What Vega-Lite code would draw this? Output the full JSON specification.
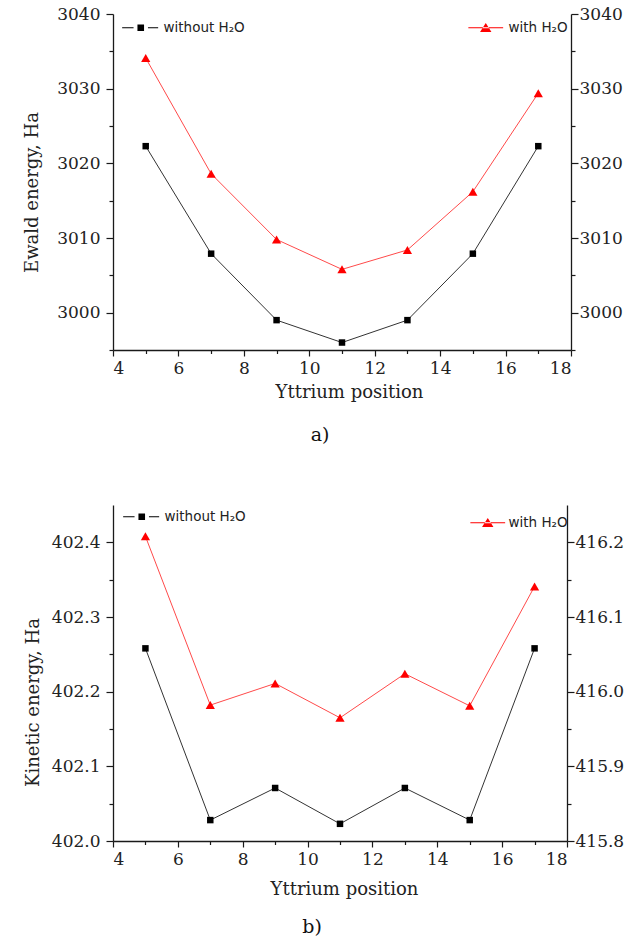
{
  "$schema": "https://vega.github.io/schema/vega-lite/v6.json",
  "background": "white",
  "padding": {"left": 23, "top": 5, "right": 5, "bottom": 5},
  "spacing": 60,
  "config": {
    "view": {"stroke": null},
    "axis": {"grid": false, "domainColor": "#1a1a1a", "domainWidth": 1.3, "tickColor": "#1a1a1a", "tickWidth": 1.2, "tickSize": 7, "labelFont": "DejaVu Serif", "labelFontSize": 17, "labelColor": "#222", "titleFont": "DejaVu Serif", "titleFontSize": 18, "titleFontWeight": "normal", "titleColor": "#222"},
    "legend": {"labelFont": "DejaVu Sans", "labelFontSize": 13.5, "labelColor": "#222", "padding": 0, "symbolStrokeWidth": 1, "orient": "none"}
  },
  "datasets": {
    "ewald": [
      {"pos": 5, "series": "without H₂O", "energy": 3022.3},
      {"pos": 7, "series": "without H₂O", "energy": 3007.9},
      {"pos": 9, "series": "without H₂O", "energy": 2999.0},
      {"pos": 11, "series": "without H₂O", "energy": 2996.0},
      {"pos": 13, "series": "without H₂O", "energy": 2999.0},
      {"pos": 15, "series": "without H₂O", "energy": 3007.9},
      {"pos": 17, "series": "without H₂O", "energy": 3022.3},
      {"pos": 5, "series": "with H₂O", "energy": 3034.1},
      {"pos": 7, "series": "with H₂O", "energy": 3018.6},
      {"pos": 9, "series": "with H₂O", "energy": 3009.8},
      {"pos": 11, "series": "with H₂O", "energy": 3005.8},
      {"pos": 13, "series": "with H₂O", "energy": 3008.4},
      {"pos": 15, "series": "with H₂O", "energy": 3016.2},
      {"pos": 17, "series": "with H₂O", "energy": 3029.4}
    ],
    "kinetic": [
      {"pos": 5, "series": "without H₂O", "energy": 402.258},
      {"pos": 7, "series": "without H₂O", "energy": 402.028},
      {"pos": 9, "series": "without H₂O", "energy": 402.071},
      {"pos": 11, "series": "without H₂O", "energy": 402.023},
      {"pos": 13, "series": "without H₂O", "energy": 402.071},
      {"pos": 15, "series": "without H₂O", "energy": 402.028},
      {"pos": 17, "series": "without H₂O", "energy": 402.258},
      {"pos": 5, "series": "with H₂O", "energy": 416.208},
      {"pos": 7, "series": "with H₂O", "energy": 415.982},
      {"pos": 9, "series": "with H₂O", "energy": 416.011},
      {"pos": 11, "series": "with H₂O", "energy": 415.965},
      {"pos": 13, "series": "with H₂O", "energy": 416.024},
      {"pos": 15, "series": "with H₂O", "energy": 415.981},
      {"pos": 17, "series": "with H₂O", "energy": 416.141}
    ]
  },
  "vconcat": [
    {
      "width": 458,
      "height": 336,
      "title": {"text": "a)", "orient": "bottom", "font": "DejaVu Serif", "fontSize": 19, "fontWeight": "normal", "color": "#111", "offset": 25, "dx": -22},
      "data": {"name": "ewald"},
      "layer": [
        {
          "transform": [{"filter": "datum.series === 'without H₂O'"}],
          "encoding": {
            "x": {"field": "pos", "type": "quantitative", "scale": {"domain": [4, 18], "nice": false, "zero": false},
              "axis": {"title": "Yttrium position", "values": [4,5,6,7,8,9,10,11,12,13,14,15,16,17,18], "labelExpr": "datum.value % 2 === 0 ? datum.label : ''", "tickSize": {"condition": {"test": "datum.value % 2 === 0", "value": 6}, "value": 3.5}, "labelPadding": 4, "titlePadding": 7, "titleX": 236}},
            "y": {"field": "energy", "type": "quantitative", "scale": {"domain": [2995, 3040], "nice": false, "zero": false},
              "axis": {"orient": "left", "title": "Ewald energy, Ha", "values": [2995,3000,3005,3010,3015,3020,3025,3030,3035,3040], "labelExpr": "datum.value % 10 === 0 ? format(datum.value, 'd') : ''", "tickSize": {"condition": {"test": "datum.value % 10 === 0", "value": 7}, "value": 4}, "labelPadding": 6, "titlePadding": 15, "titleY": 178}}
          },
          "layer": [
            {"mark": {"type": "line", "color": "#333333", "strokeWidth": 1}},
            {"mark": {"type": "point", "shape": "square", "filled": true, "size": 42, "opacity": 1},
              "encoding": {"color": {"field": "series", "type": "nominal", "scale": {"domain": ["without H₂O"], "range": ["#000000"]},
                "legend": {"title": null, "orient": "none", "legendX": 21, "legendY": 7, "symbolType": "M-3.1,-0.09H-1.2V0.09H-3.1ZM1.2,-0.09H2.9V0.09H1.2ZM-0.55,-0.55H0.55V0.55H-0.55Z", "symbolSize": 144, "labelOffset": 16,
                  "encode": {"symbols": {"update": {"shape": {"value": "M-3.1,-0.09H-1.2V0.09H-3.1ZM1.2,-0.09H2.9V0.09H1.2ZM-0.55,-0.55H0.55V0.55H-0.55Z"}, "size": {"value": 144}, "fill": {"value": "#000000"}, "stroke": {"value": "#000000"}, "strokeWidth": {"value": 0.3}, "opacity": {"value": 1}}}}}}}}
          ]
        },
        {
          "transform": [{"filter": "datum.series === 'with H₂O'"}],
          "encoding": {
            "x": {"field": "pos", "type": "quantitative", "scale": {"domain": [4, 18], "nice": false, "zero": false},
              "axis": {"title": "Yttrium position", "values": [4,5,6,7,8,9,10,11,12,13,14,15,16,17,18], "labelExpr": "datum.value % 2 === 0 ? datum.label : ''", "tickSize": {"condition": {"test": "datum.value % 2 === 0", "value": 6}, "value": 3.5}, "labelPadding": 4, "titlePadding": 7, "titleX": 236}},
            "y": {"field": "energy", "type": "quantitative", "scale": {"domain": [2995, 3040], "nice": false, "zero": false},
              "axis": {"orient": "right", "title": null, "values": [2995,3000,3005,3010,3015,3020,3025,3030,3035,3040], "labelExpr": "datum.value % 10 === 0 ? format(datum.value, 'd') : ''", "tickSize": {"condition": {"test": "datum.value % 10 === 0", "value": 7}, "value": 4}, "labelPadding": 1}}
          },
          "layer": [
            {"mark": {"type": "line", "color": "#ff4a4a", "strokeWidth": 1}},
            {"mark": {"type": "point", "shape": "triangle-up", "filled": true, "size": 85, "opacity": 1},
              "encoding": {"color": {"field": "series", "type": "nominal", "scale": {"domain": ["with H₂O"], "range": ["#ff0000"]},
                "legend": {"title": null, "orient": "none", "legendX": 366, "legendY": 7, "symbolType": "M-2.9,-0.09H2.9V0.09H-2.9ZM0,-0.8L-0.95,0.72L0.95,0.72Z", "symbolSize": 144, "labelOffset": 16,
                  "encode": {"symbols": {"update": {"shape": {"value": "M-2.9,-0.09H2.9V0.09H-2.9ZM0,-0.8L-0.95,0.72L0.95,0.72Z"}, "size": {"value": 144}, "fill": {"value": "#ff0000"}, "stroke": {"value": "#ff0000"}, "strokeWidth": {"value": 0.3}, "opacity": {"value": 1}}}}}}}}
          ]
        }
      ],
      "resolve": {"scale": {"y": "independent", "color": "independent"}}
    },
    {
      "width": 454,
      "height": 336,
      "title": {"text": "b)", "orient": "bottom", "font": "DejaVu Serif", "fontSize": 19, "fontWeight": "normal", "color": "#111", "offset": 20, "dx": -28},
      "data": {"name": "kinetic"},
      "layer": [
        {
          "transform": [{"filter": "datum.series === 'without H₂O'"}],
          "encoding": {
            "x": {"field": "pos", "type": "quantitative", "scale": {"domain": [4, 18], "nice": false, "zero": false},
              "axis": {"title": "Yttrium position", "values": [4,5,6,7,8,9,10,11,12,13,14,15,16,17,18], "labelExpr": "datum.value % 2 === 0 ? datum.label : ''", "tickSize": {"condition": {"test": "datum.value % 2 === 0", "value": 6}, "value": 3.5}, "labelPadding": 4, "titlePadding": 13, "titleX": 231}},
            "y": {"field": "energy", "type": "quantitative", "scale": {"domain": [402.0, 402.45], "nice": false, "zero": false},
              "axis": {"orient": "left", "title": "Kinetic  energy, Ha", "values": [402.0,402.05,402.1,402.15,402.2,402.25,402.3,402.35,402.4], "labelExpr": "abs(datum.value*10 - round(datum.value*10)) < 0.001 ? format(datum.value, '.1f') : ''", "tickSize": {"condition": {"test": "abs(datum.value*10 - round(datum.value*10)) < 0.001", "value": 7}, "value": 4}, "labelPadding": 6, "titlePadding": 9, "titleY": 197}}
          },
          "layer": [
            {"mark": {"type": "line", "color": "#333333", "strokeWidth": 1}},
            {"mark": {"type": "point", "shape": "square", "filled": true, "size": 42, "opacity": 1},
              "encoding": {"color": {"field": "series", "type": "nominal", "scale": {"domain": ["without H₂O"], "range": ["#000000"]},
                "legend": {"title": null, "orient": "none", "legendX": 22, "legendY": 5, "symbolType": "M-3.1,-0.09H-1.2V0.09H-3.1ZM1.2,-0.09H2.9V0.09H1.2ZM-0.55,-0.55H0.55V0.55H-0.55Z", "symbolSize": 144, "labelOffset": 16,
                  "encode": {"symbols": {"update": {"shape": {"value": "M-3.1,-0.09H-1.2V0.09H-3.1ZM1.2,-0.09H2.9V0.09H1.2ZM-0.55,-0.55H0.55V0.55H-0.55Z"}, "size": {"value": 144}, "fill": {"value": "#000000"}, "stroke": {"value": "#000000"}, "strokeWidth": {"value": 0.3}, "opacity": {"value": 1}}}}}}}}
          ]
        },
        {
          "transform": [{"filter": "datum.series === 'with H₂O'"}],
          "encoding": {
            "x": {"field": "pos", "type": "quantitative", "scale": {"domain": [4, 18], "nice": false, "zero": false},
              "axis": {"title": "Yttrium position", "values": [4,5,6,7,8,9,10,11,12,13,14,15,16,17,18], "labelExpr": "datum.value % 2 === 0 ? datum.label : ''", "tickSize": {"condition": {"test": "datum.value % 2 === 0", "value": 6}, "value": 3.5}, "labelPadding": 4, "titlePadding": 13, "titleX": 231}},
            "y": {"field": "energy", "type": "quantitative", "scale": {"domain": [415.8, 416.25], "nice": false, "zero": false},
              "axis": {"orient": "right", "title": null, "values": [415.8,415.85,415.9,415.95,416.0,416.05,416.1,416.15,416.2], "labelExpr": "abs(datum.value*10 - round(datum.value*10)) < 0.001 ? format(datum.value, '.1f') : ''", "tickSize": {"condition": {"test": "abs(datum.value*10 - round(datum.value*10)) < 0.001", "value": 7}, "value": 4}, "labelPadding": 1}}
          },
          "layer": [
            {"mark": {"type": "line", "color": "#ff4a4a", "strokeWidth": 1}},
            {"mark": {"type": "point", "shape": "triangle-up", "filled": true, "size": 85, "opacity": 1},
              "encoding": {"color": {"field": "series", "type": "nominal", "scale": {"domain": ["with H₂O"], "range": ["#ff0000"]},
                "legend": {"title": null, "orient": "none", "legendX": 368, "legendY": 11, "symbolType": "M-2.9,-0.09H2.9V0.09H-2.9ZM0,-0.8L-0.95,0.72L0.95,0.72Z", "symbolSize": 144, "labelOffset": 14,
                  "encode": {"symbols": {"update": {"shape": {"value": "M-2.9,-0.09H2.9V0.09H-2.9ZM0,-0.8L-0.95,0.72L0.95,0.72Z"}, "size": {"value": 144}, "fill": {"value": "#ff0000"}, "stroke": {"value": "#ff0000"}, "strokeWidth": {"value": 0.3}, "opacity": {"value": 1}}}}}}}}
          ]
        }
      ],
      "resolve": {"scale": {"y": "independent", "color": "independent"}}
    }
  ]
}
